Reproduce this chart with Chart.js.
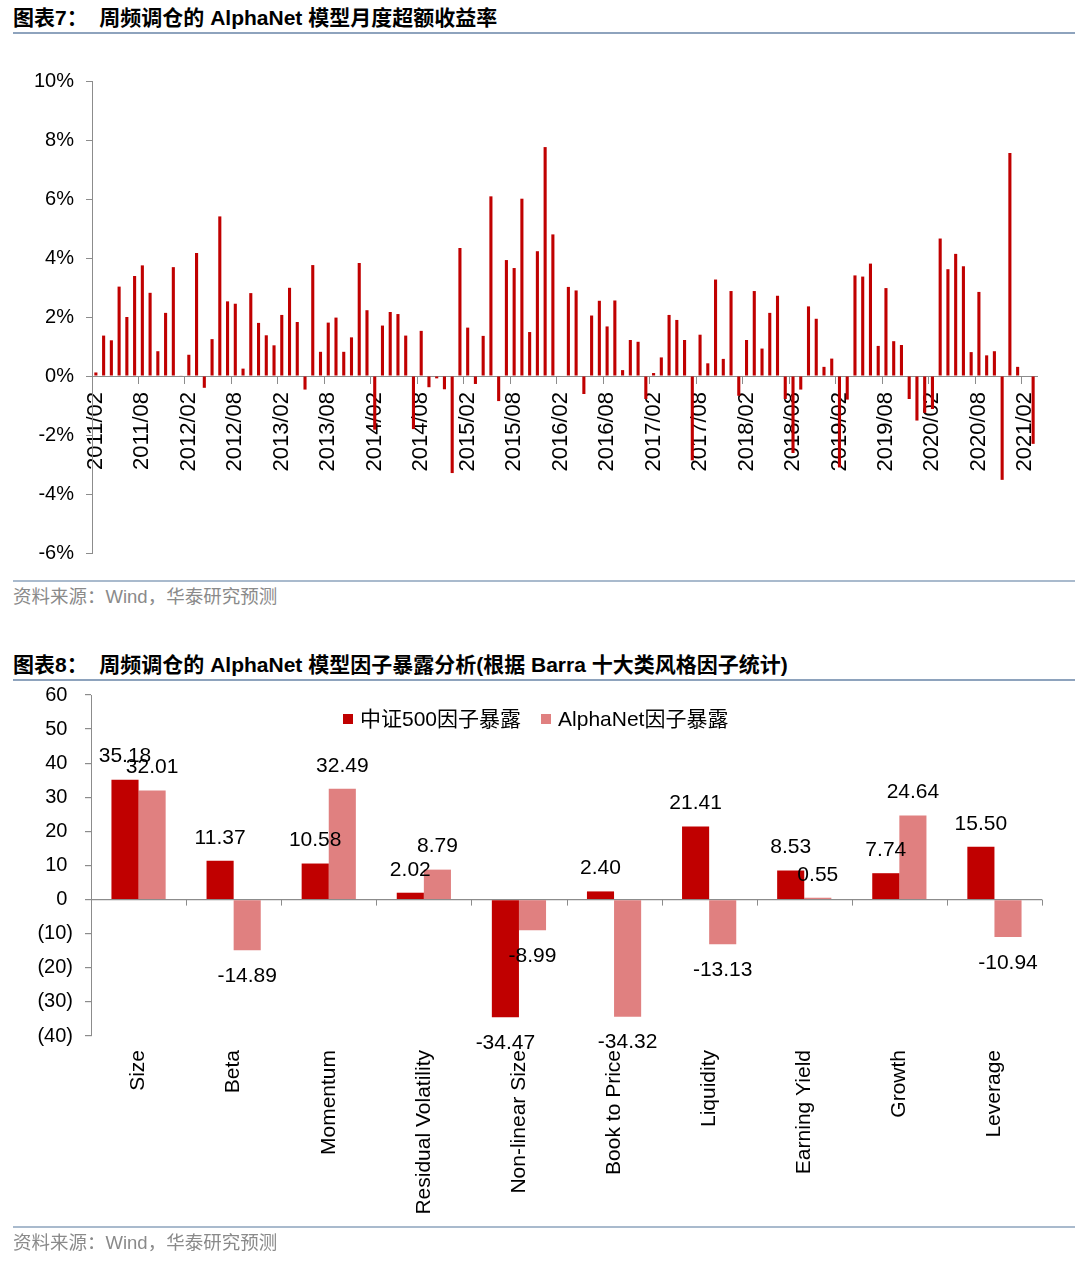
<!DOCTYPE html>
<html>
<head>
<meta charset="utf-8">
<script src="https://cdn.jsdelivr.net/npm/chart.js@4.4.1/dist/chart.umd.min.js"></script>
<style>
  html, body { margin:0; padding:0; background:#fff; }
  body { width:1080px; height:1265px; position:relative; overflow:hidden; font-family:"Liberation Sans", Arial, "Noto Sans CJK SC", sans-serif; }
  .title { position:absolute; left:13px; font-weight:bold; font-size:21px; line-height:24px; color:#000; white-space:pre; font-family:"Liberation Sans", Arial, "Noto Sans CJK SC", sans-serif; }
  .rule { position:absolute; left:13px; width:1062px; height:2px; background:#8EA3BD; }
  .rule2 { position:absolute; left:13px; width:1062px; height:2px; background:#A9BACD; }
  .src { position:absolute; left:13px; font-size:18.5px; line-height:22px; color:#8a8a8a; white-space:pre; font-family:"Liberation Sans", Arial, "Noto Sans CJK SC", sans-serif; }
  .cv { position:absolute; left:0; }
  #lg { position:absolute; left:343px; top:706px; display:flex; align-items:center; font-size:21px; line-height:26px; color:#000; font-family:"Liberation Sans", Arial, "Noto Sans CJK SC", sans-serif; white-space:pre; }
  #lg .box { display:inline-block; width:10px; height:10px; margin-right:7px; }
</style>
</head>
<body>
<div class="title" style="top:6px">图表7：  周频调仓的 AlphaNet 模型月度超额收益率</div>
<div class="rule" style="top:32px"></div>
<canvas id="c1" class="cv" style="top:40px" width="1080" height="540"></canvas>
<div class="rule2" style="top:580px"></div>
<div class="src" style="top:586px">资料来源：Wind，华泰研究预测</div>

<div class="title" style="top:653px">图表8：  周频调仓的 AlphaNet 模型因子暴露分析(根据 Barra 十大类风格因子统计)</div>
<div class="rule" style="top:679px"></div>
<canvas id="c2" class="cv" style="top:671px" width="1080" height="564"></canvas>
<div id="lg"></div>
<div class="rule2" style="top:1226px"></div>
<div class="src" style="top:1232px">资料来源：Wind，华泰研究预测</div>

<script>
// ---------- Chart 1 data ----------
const startYear = 2011, startMonth = 2, monthCount = 122;
const months = [];
for (let i = 0; i < monthCount; i++) {
  const m = startMonth - 1 + i;
  const y = startYear + Math.floor(m / 12);
  const mm = (m % 12) + 1;
  months.push(y + '/' + (mm < 10 ? '0' + mm : mm));
}
const monthTickLabels = ['2011/02','2011/08','2012/02','2012/08','2013/02','2013/08','2014/02','2014/08',
  '2015/02','2015/08','2016/02','2016/08','2017/02','2017/08','2018/02','2018/08','2019/02','2019/08',
  '2020/02','2020/08','2021/02'];
const excessReturn = [
  // 2011/02 - 2011/12
  0.12, 1.37, 1.21, 3.03, 2.00, 3.39, 3.75, 2.82, 0.84, 2.14, 3.69,
  // 2012
  0.02, 0.72, 4.17, -0.40, 1.25, 5.41, 2.53, 2.45, 0.25, 2.81, 1.80, 1.38,
  // 2013
  1.04, 2.07, 2.99, 1.83, -0.46, 3.76, 0.82, 1.81, 1.98, 0.82, 1.31, 3.83,
  // 2014
  2.23, -1.82, 1.71, 2.17, 2.10, 1.37, -1.80, 1.53, -0.38, -0.08, -0.45, -3.29,
  // 2015
  4.34, 1.64, -0.27, 1.36, 6.09, -0.85, 3.93, 3.66, 6.01, 1.49, 4.23, 7.76,
  // 2016
  4.80, 0.00, 3.02, 2.90, -0.61, 2.05, 2.55, 1.68, 2.56, 0.20, 1.22, 1.16,
  // 2017
  -0.78, 0.10, 0.63, 2.07, 1.90, 1.22, -2.86, 1.40, 0.43, 3.27, 0.58, 2.88,
  // 2018
  -0.67, 1.22, 2.88, 0.93, 2.14, 2.72, -0.78, -2.61, -0.46, 2.36, 1.94, 0.31,
  // 2019
  0.59, -3.10, -0.80, 3.41, 3.37, 3.81, 1.02, 2.98, 1.18, 1.05, -0.78, -1.51,
  // 2020
  -1.25, -1.12, 4.66, 3.62, 4.14, 3.72, 0.81, 2.85, 0.70, 0.84, -3.52, 7.56,
  // 2021
  0.31, 0.00, -2.30
];

// ---------- Chart 2 data ----------
const factors = ['Size','Beta','Momentum','Residual Volatility','Non-linear Size','Book to Price','Liquidity','Earning Yield','Growth','Leverage'];
const csi500Exposure = [35.18, 11.37, 10.58, 2.02, -34.47, 2.40, 21.41, 8.53, 7.74, 15.50];
const alphaNetExposure = [32.01, -14.89, 32.49, 8.79, -8.99, -34.32, -13.13, 0.55, 24.64, -10.94];
const seriesNames = ['中证500因子暴露', 'AlphaNet因子暴露'];

const FONT = '"Liberation Sans", Arial, sans-serif';
Chart.defaults.font.family = FONT;
Chart.defaults.color = '#000';
const AXIS = '#8c8c8c';

// ---------- Chart 1 ----------
new Chart(document.getElementById('c1'), {
  type: 'bar',
  data: {
    labels: months,
    datasets: [{ data: excessReturn, backgroundColor: '#C00000', borderWidth: 0,
      barPercentage: 0.4, categoryPercentage: 1.0 }]
  },
  options: {
    responsive: false, animation: false,
    layout: { padding: { top: 41, bottom: 27, left: 10, right: 43 } },
    plugins: { legend: { display: false }, tooltip: { enabled: false } },
    scales: {
      x: {
        axis: 'x',
        position: { y: 0 },
        offset: true,
        border: { display: true, color: AXIS, width: 1 },
        grid: {
          offset: true, drawOnChartArea: false, drawTicks: true, tickLength: 7,
          color: (c) => (c.index % 6 === 0 && c.index < monthCount) ? AXIS : 'rgba(0,0,0,0)'
        },
        ticks: {
          autoSkip: false, minRotation: 90, maxRotation: 90, padding: 9,
          font: { size: 22 }, color: '#000',
          callback: function (v) { const l = this.getLabelForValue(v); return monthTickLabels.includes(l) ? l : ''; }
        }
      },
      y: {
        min: -6, max: 10,
        afterFit: (s) => { s.width = 82; },
        border: { display: true, color: AXIS, width: 1 },
        grid: { drawOnChartArea: false, drawTicks: true, tickLength: 6, color: AXIS },
        ticks: { stepSize: 2, padding: 12, font: { size: 20 }, color: '#000',
          callback: (v) => v + '%' }
      }
    }
  }
});

// ---------- Chart 2 ----------
const valueLabels = {
  id: 'valueLabels',
  afterDatasetsDraw(chart) {
    const ctx = chart.ctx;
    ctx.save();
    ctx.font = '21px ' + FONT;
    ctx.fillStyle = '#000';
    ctx.textAlign = 'center';
    ctx.textBaseline = 'middle';
    chart.data.datasets.forEach((ds, di) => {
      chart.getDatasetMeta(di).data.forEach((el, i) => {
        const v = ds.data[i];
        ctx.fillText(v.toFixed(2), el.x, v >= 0 ? el.y - 23 : el.y + 26);
      });
    });
    ctx.restore();
  }
};
const zeroTicks = {
  id: 'zeroTicks',
  afterDraw(chart) {
    const xs = chart.scales.x, ys = chart.scales.y;
    const y0 = ys.getPixelForValue(0);
    const n = chart.data.labels.length;
    const w = xs.getPixelForValue(1) - xs.getPixelForValue(0);
    const ctx = chart.ctx;
    ctx.save();
    ctx.strokeStyle = AXIS;
    ctx.lineWidth = 1;
    ctx.beginPath();
    for (let i = 1; i <= n; i++) {
      const x = Math.round(xs.getPixelForValue(i - 1) + w / 2) + 0.5;
      ctx.moveTo(x, y0);
      ctx.lineTo(x, y0 + 6);
    }
    ctx.stroke();
    ctx.restore();
  }
};
const c2 = new Chart(document.getElementById('c2'), {
  type: 'bar',
  data: {
    labels: factors,
    datasets: [
      { label: seriesNames[0], data: csi500Exposure, backgroundColor: '#C00000', borderWidth: 0 },
      { label: seriesNames[1], data: alphaNetExposure, backgroundColor: '#E08080', borderWidth: 0 }
    ]
  },
  options: {
    responsive: false, animation: false,
    datasets: { bar: { barPercentage: 1.0, categoryPercentage: 0.57 } },
    layout: { padding: { top: 19, bottom: 0, left: 5, right: 38 } },
    plugins: { legend: { display: false }, tooltip: { enabled: false } },
    scales: {
      x: {
        afterFit: (s) => { s.height = 199; },
        border: { display: false },
        grid: { display: false, drawTicks: false },
        ticks: { autoSkip: false, minRotation: 90, maxRotation: 90, padding: 14,
          font: { size: 21 }, color: '#000' }
      },
      y: {
        min: -40, max: 60,
        afterFit: (s) => { s.width = 86; },
        border: { display: true, color: AXIS, width: 1 },
        grid: {
          drawOnChartArea: true, drawTicks: true, tickLength: 6, tickColor: AXIS, lineWidth: 1.2,
          color: (c) => (c.tick && c.tick.value === 0) ? AXIS : 'rgba(0,0,0,0)'
        },
        ticks: { stepSize: 10, padding: 12, font: { size: 20 }, color: '#000',
          callback: (v) => v < 0 ? '(' + (-v) + ')' : v + ' ' }
      }
    }
  },
  plugins: [valueLabels, zeroTicks]
});

// HTML legend built from the chart datasets
const lg = document.getElementById('lg');
c2.data.datasets.forEach((ds, i) => {
  if (i > 0) { const gap = document.createElement('span'); gap.style.width = '20px'; gap.style.display = 'inline-block'; lg.appendChild(gap); }
  const b = document.createElement('span'); b.className = 'box'; b.style.background = ds.backgroundColor; lg.appendChild(b);
  const t = document.createElement('span'); t.textContent = ds.label; lg.appendChild(t);
});
</script>
</body>
</html>
